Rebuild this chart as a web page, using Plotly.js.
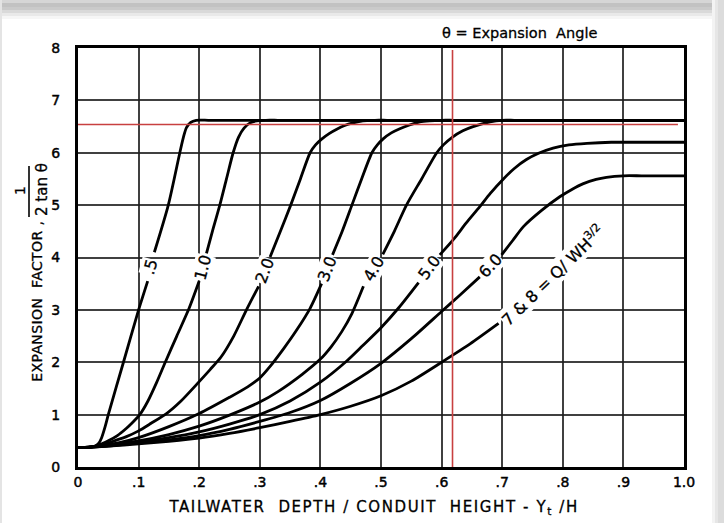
<!DOCTYPE html>
<html>
<head>
<meta charset="utf-8">
<script src="https://cdn.plot.ly/plotly-3.0.1.min.js"></script>
<style>
html,body{margin:0;padding:0;background:#fff;}
#chart{width:724px;height:523px;}
#chart .xtick text, #chart .ytick text { stroke:#000; stroke-width:0.45px; }
#chart g.annotation text { stroke:#000; stroke-width:0.3px; }
#chart g.annotation[data-index="9"] text { letter-spacing:1.6px; }
#chart g.annotation[data-index="10"] text { letter-spacing:0.4px; }
</style>
</head>
<body>
<div id="chart"></div>
<script>
// ---- data ----
const x05 = [0, 0.02, 0.028, 0.034, 0.039, 0.045, 0.05, 0.075, 0.1, 0.115, null, 0.126, 0.149, 0.168, 0.174, 0.179, 0.186, 0.195, 0.215, 0.24, 1.0];
const y05 = [0.37, 0.38, 0.4, 0.45, 0.56, 0.78, 1.0, 2.0, 3.0, 3.55, null, 4.1, 5.0, 6.0, 6.3, 6.48, 6.58, 6.62, 6.62, 6.62, 6.62];

const x10 = [0, 0.02, 0.035, 0.05, 0.065, 0.08, 0.09, 0.102, 0.115, 0.13, 0.144, 0.163, 0.183, 0.2, null, 0.212, 0.223, 0.234, 0.245, 0.256, 0.265, 0.274, 0.284, 0.295, 0.31, 0.33, 0.36, 1.0];
const y10 = [0.37, 0.38, 0.42, 0.5, 0.6, 0.74, 0.85, 1.0, 1.25, 1.62, 2.0, 2.5, 3.02, 3.55, null, 4.08, 4.55, 5.0, 5.5, 6.0, 6.3, 6.47, 6.57, 6.61, 6.62, 6.62, 6.62, 6.62];

const x20 = [0, 0.02, 0.04, 0.06, 0.08, 0.1, 0.12, 0.146, 0.17, 0.2, 0.218, 0.236, 0.257, 0.278, 0.298, null, 0.317, 0.334, 0.351, 0.367, 0.383, 0.392, 0.402, 0.415, 0.427, 0.44, 0.454, 0.47, 0.49, 0.51, 0.54, 1.0];
const y20 = [0.37, 0.38, 0.42, 0.5, 0.58, 0.69, 0.83, 1.02, 1.26, 1.63, 1.86, 2.1, 2.5, 3.0, 3.45, null, 4.01, 4.5, 5.0, 5.5, 6.0, 6.15, 6.26, 6.37, 6.45, 6.52, 6.57, 6.61, 6.62, 6.62, 6.62, 6.62];

const x30 = [0, 0.02, 0.04, 0.07, 0.1, 0.15, 0.2, 0.25, 0.28, 0.3, 0.317, 0.34, 0.36, 0.383, 0.402, null, 0.42, 0.436, 0.452, 0.468, 0.485, 0.494, 0.504, 0.517, 0.531, 0.547, 0.564, 0.58, 0.6, 0.62, 0.65, 1.0];
const y30 = [0.37, 0.38, 0.41, 0.47, 0.56, 0.77, 1.02, 1.33, 1.53, 1.7, 1.92, 2.27, 2.6, 3.03, 3.5, null, 4.05, 4.5, 5.0, 5.5, 6.0, 6.15, 6.27, 6.38, 6.46, 6.53, 6.59, 6.61, 6.62, 6.62, 6.62, 6.62];

const x40 = [0, 0.02, 0.05, 0.1, 0.15, 0.2, 0.25, 0.3, 0.33, 0.37, 0.4, 0.418, 0.435, 0.452, 0.471, null, 0.503, 0.522, 0.542, 0.567, 0.592, 0.603, 0.618, 0.635, 0.652, 0.68, 0.7, 0.72, 0.75, 1.0];
const y40 = [0.37, 0.38, 0.42, 0.5, 0.62, 0.78, 0.99, 1.24, 1.44, 1.77, 2.06, 2.3, 2.58, 2.93, 3.45, null, 4.06, 4.5, 5.0, 5.5, 6.0, 6.15, 6.3, 6.42, 6.5, 6.59, 6.62, 6.62, 6.62, 6.62];

const x50 = [0, 0.02, 0.05, 0.1, 0.15, 0.2, 0.25, 0.3, 0.35, 0.4, 0.443, 0.47, 0.5, 0.53, 0.562, null, 0.597, 0.62, 0.64, 0.663, 0.68, 0.702, 0.72, 0.74, 0.76, 0.784, 0.81, 0.84, 0.88, 0.91, 0.94, 1.0];
const y50 = [0.37, 0.38, 0.41, 0.48, 0.56, 0.67, 0.82, 1.0, 1.26, 1.62, 2.02, 2.32, 2.66, 3.05, 3.52, null, 4.05, 4.35, 4.65, 4.97, 5.22, 5.5, 5.7, 5.87, 5.99, 6.09, 6.15, 6.18, 6.2, 6.2, 6.2, 6.2];

const x60 = [0, 0.02, 0.05, 0.1, 0.15, 0.2, 0.25, 0.3, 0.35, 0.4, 0.45, 0.5, 0.55, 0.6, 0.63, 0.663, null, 0.699, 0.717, 0.735, 0.765, 0.795, 0.815, 0.834, 0.855, 0.872, 0.9, 0.93, 0.96, 1.0];
const y60 = [0.37, 0.38, 0.4, 0.46, 0.52, 0.6, 0.72, 0.87, 1.04, 1.27, 1.6, 1.98, 2.45, 2.97, 3.28, 3.63, null, 4.05, 4.32, 4.59, 4.9, 5.16, 5.3, 5.41, 5.49, 5.53, 5.56, 5.56, 5.56, 5.56];

const x78 = [0, 0.02, 0.05, 0.1, 0.15, 0.2, 0.25, 0.3, 0.35, 0.4, 0.45, 0.5, 0.55, 0.6, 0.647, 0.694];
const y78 = [0.37, 0.38, 0.4, 0.44, 0.49, 0.55, 0.64, 0.75, 0.87, 1.0, 1.16, 1.36, 1.64, 2.0, 2.35, 2.74];

const curveLabels = ['.5', '1.0', '2.0', '3.0', '4.0', '5.0', '6.0', '7 &amp; 8 = Q/ WH<sup>3/2</sup>'];

// reference (red) lines
const refY = 6.54;
const refYSpan = [0, 0.99];
const refX = 0.618;
const refXSpan = [-0.07, 7.96];

const xTickVals = [0, 0.1, 0.2, 0.3, 0.4, 0.5, 0.6, 0.7, 0.8, 0.9, 1.0];
const xTickText = ['0', '.1', '.2', '.3', '.4', '.5', '.6', '.7', '.8', '.9', '1.0'];
const yTickVals = [0, 1, 2, 3, 4, 5, 6, 7, 8];
const yTickText = ['0', '1', '2', '3', '4', '5', '6', '7', '8'];

// ---- drawing ----
const FONT = 'DejaVu Sans, Arial, sans-serif';
const curveLine = {color: '#000', width: 2.8, shape: 'spline', smoothing: 0.7};
const series = [[x05, y05], [x10, y10], [x20, y20], [x30, y30], [x40, y40], [x50, y50], [x60, y60], [x78, y78]];
const traces = series.map((s, i) => ({
  type: 'scatter', mode: 'lines', x: s[0], y: s[1], name: curveLabels[i],
  line: curveLine, connectgaps: false, hoverinfo: 'skip', showlegend: false
}));
traces.push({type: 'scatter', mode: 'lines', x: refYSpan, y: [refY, refY], line: {color: '#c84040', width: 1.6}, showlegend: false, hoverinfo: 'skip'});
traces.push({type: 'scatter', mode: 'lines', x: [refX, refX], y: refXSpan, line: {color: '#c84040', width: 1.6}, showlegend: false, hoverinfo: 'skip'});

const PL = 78, PR = 684, PT = 48, PB = 467;
const px = v => (v - PL) / (PR - PL);
const py = v => (PB - v) / (PB - PT);

const labelPos = [
  [0.120, 3.82, -75], [0.206, 3.81, -75], [0.307, 3.74, -69], [0.411, 3.77, -69],
  [0.487, 3.78, -60], [0.580, 3.80, -54], [0.681, 3.84, -47], [0.783, 3.66, -44]
];
const annotations = curveLabels.map((t, i) => ({
  x: labelPos[i][0], y: labelPos[i][1], xref: 'x', yref: 'y', text: t, showarrow: false,
  textangle: labelPos[i][2], font: {family: FONT, size: 16, color: '#000'},
  bgcolor: '#fff', borderpad: 0, xanchor: 'center', yanchor: 'middle'
}));
annotations.push(
  {xref: 'paper', yref: 'paper', x: px(519), y: py(33), text: 'θ = Expansion  Angle', showarrow: false,
   font: {family: FONT, size: 14.5, color: '#000'}, xanchor: 'center', yanchor: 'middle'},
  {xref: 'paper', yref: 'paper', x: px(373), y: py(508), text: 'TAILWATER  DEPTH / CONDUIT  HEIGHT - Y<sub>t</sub> /H', showarrow: false,
   font: {family: FONT, size: 15, color: '#000'}, xanchor: 'center', yanchor: 'middle'},
  {xref: 'paper', yref: 'paper', x: px(37), y: py(301), text: 'EXPANSION  FACTOR ,', showarrow: false, textangle: -90,
   font: {family: FONT, size: 14, color: '#000'}, xanchor: 'center', yanchor: 'middle'},
  {xref: 'paper', yref: 'paper', x: px(42), y: py(190), text: '2 tan θ', showarrow: false, textangle: -90,
   font: {family: FONT, size: 15, color: '#000'}, xanchor: 'center', yanchor: 'middle'},
  {xref: 'paper', yref: 'paper', x: px(20), y: py(190), text: '1', showarrow: false, textangle: -90,
   font: {family: FONT, size: 14, color: '#000'}, xanchor: 'center', yanchor: 'middle'}
);

const shapes = [
  {type: 'line', xref: 'paper', yref: 'paper', x0: px(29), x1: px(29), y0: py(166), y1: py(217), line: {color: '#000', width: 1.6}},
];
const topBand = [['#d6d6d6', 0, 3], ['#c2c2c2', 3, 7], ['#cacaca', 7, 10], ['#d9d9d9', 10, 13], ['#e9e9e9', 13, 16], ['#f6f6f6', 16, 19]];
topBand.forEach(b => shapes.push({type: 'rect', xref: 'paper', yref: 'paper', x0: px(0), x1: px(724), y0: py(b[2]), y1: py(b[1]), fillcolor: b[0], line: {width: 0}, layer: 'below'}));
const rightBand = [['#f3f3f3', 712, 715], ['#e6e6e6', 715, 718], ['#dcdcdc', 718, 724]];
rightBand.forEach(b => shapes.push({type: 'rect', xref: 'paper', yref: 'paper', x0: px(b[1]), x1: px(b[2]), y0: py(523), y1: py(0), fillcolor: b[0], line: {width: 0}, layer: 'below'}));
shapes.push({type: 'rect', xref: 'paper', yref: 'paper', x0: px(0), x1: px(2), y0: py(523), y1: py(0), fillcolor: '#e4e4e4', line: {width: 0}, layer: 'below'});

const axisCommon = {
  showgrid: true, gridcolor: 'rgba(30,30,30,0.85)', gridwidth: 2,
  showline: true, linecolor: '#000', linewidth: 3, mirror: true,
  zeroline: false, ticks: '', fixedrange: true,
  tickfont: {family: FONT, size: 14, color: '#000'}
};

const layout = {
  width: 724, height: 523,
  margin: {l: PL, r: 724 - PR, t: PT, b: 523 - PB, pad: 0},
  paper_bgcolor: '#fff', plot_bgcolor: '#fff',
  showlegend: false,
  xaxis: Object.assign({}, axisCommon, {range: [0, 1], tickvals: xTickVals, ticktext: xTickText, ticklabelstandoff: 0}),
  yaxis: Object.assign({}, axisCommon, {range: [0, 8], tickvals: yTickVals, ticktext: yTickText, ticklabelstandoff: 12}),
  annotations: annotations,
  shapes: shapes
};

Plotly.newPlot('chart', traces, layout, {displayModeBar: false, staticPlot: true});
</script>
</body>
</html>
